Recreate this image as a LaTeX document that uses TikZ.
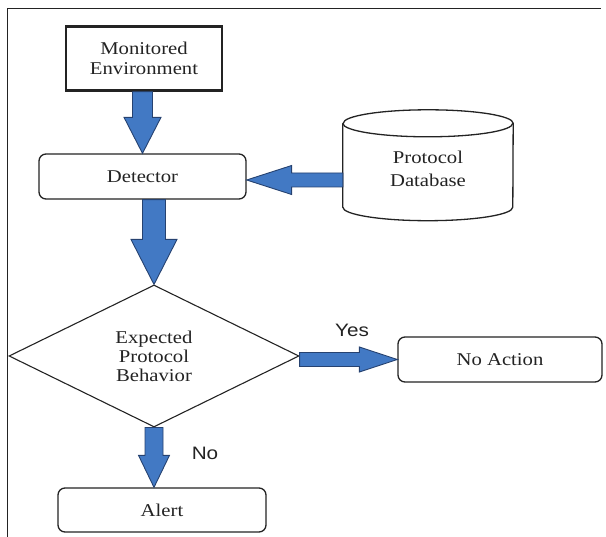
\documentclass[tikz,border=0pt]{standalone}
\usepackage{fontspec}
\setmainfont[FakeStretch=1.15]{Liberation Serif}
\newfontfamily\labelfont[FakeStretch=1.15]{Liberation Sans}
\usetikzlibrary{shapes.geometric,calc}
\definecolor{arrowblue}{RGB}{66,121,196}
\definecolor{arrowedge}{RGB}{38,66,112}
\definecolor{ink}{RGB}{35,35,35}
\tikzset{
  txt/.style={text=ink, align=center, inner sep=0pt, font=\fontsize{18}{20}\selectfont},
  rbox/.style={txt, draw=ink, line width=1.3pt, rounded corners=7pt},
  blockarrow/.style={draw=arrowedge, fill=arrowblue, line width=0.9pt, line join=miter},
  yesno/.style={text=ink, inner sep=0pt, font=\labelfont\fontsize{18}{20}\selectfont},
}
% vertical (downward) block arrow: from, to, shaft half width, head half width, head length (signed)
\newcommand\vblock[5]{\path[blockarrow] let \p1=(#1), \p2=(#2) in
  (\x1-#3,\y1) -- (\x1+#3,\y1) -- (\x1+#3,\y2#5) -- (\x1+#4,\y2#5) -- (\x1,\y2)
  -- (\x1-#4,\y2#5) -- (\x1-#3,\y2#5) -- cycle;}
% horizontal block arrow
\newcommand\hblock[5]{\path[blockarrow] let \p1=(#1), \p2=(#2) in
  (\x1,\y1-#3) -- (\x1,\y1+#3) -- (\x2#5,\y1+#3) -- (\x2#5,\y1+#4) -- (\x2,\y1)
  -- (\x2#5,\y1-#4) -- (\x2#5,\y1-#3) -- cycle;}
\begin{document}
\begin{tikzpicture}[x=1pt,y=-1pt]
\useasboundingbox (0,0) rectangle (606,537);
% frame
\draw[ink, line width=1pt] (7,537) -- (7,9) -- (601,9);

% nodes
\node[txt, draw=ink, line width=2.5pt, minimum width=156pt, minimum height=64pt] (env) at (144,58.5) {Monitored\\Environment};
\node[rbox, minimum width=207pt, minimum height=45pt] (det) at (142.5,176.5) {Detector};
\node[txt, minimum width=170pt, minimum height=110.5pt, font=\fontsize{18}{23}\selectfont] (db) at (428,165.25) {};
\draw[ink, line width=1.3pt, fill=white] ([yshift=-13.5pt]db.north west) -- ([yshift=13.5pt]db.south west)
  arc[start angle=180, end angle=360, x radius=85pt, y radius=13.5pt]
  -- ([yshift=-13.5pt]db.north east)
  arc[start angle=0, end angle=180, x radius=85pt, y radius=13.5pt];
\draw[ink, line width=1.3pt] ([yshift=-13.5pt]db.north west)
  arc[start angle=180, end angle=360, x radius=85pt, y radius=13.5pt];
\node[txt, font=\fontsize{18}{23}\selectfont] at ([yshift=-3.5pt]db.center) {Protocol\\Database};

\node[txt, diamond, draw=ink, line width=1.1pt, aspect=2, minimum width=290pt, minimum height=142pt, font=\fontsize{18}{19}\selectfont] (dia) at (154,356) {Expected\\Protocol\\Behavior};
\node[rbox, minimum width=204pt, minimum height=45pt] (noact) at (500,359.5) {No Action};
\node[rbox, minimum width=208pt, minimum height=44pt] (alert) at (162,510) {Alert};

% arrow start points
\coordinate (e1) at (env.south -| det.north);
\coordinate (d2) at (det.south -| dia.north);
\coordinate (b1) at ($(db.west |- det.east)+(0,3.5)$);
\coordinate (y1) at (dia.east |- noact.west);

% arrows
\vblock{e1}{det.north}{10pt}{18.5pt}{+36pt}
\vblock{d2}{dia.north}{11.5pt}{23pt}{+45pt}
\vblock{dia.south}{alert.north}{9pt}{15.5pt}{+32pt}
\hblock{b1}{det.east}{7pt}{14.5pt}{+45pt}
\hblock{y1}{noact.west}{7pt}{12.5pt}{-38pt}

% labels
\node[yesno] (yes) at (352,330) {Yes};
\node[yesno] (no) at (205,453) {No};
\end{tikzpicture}
\end{document}
